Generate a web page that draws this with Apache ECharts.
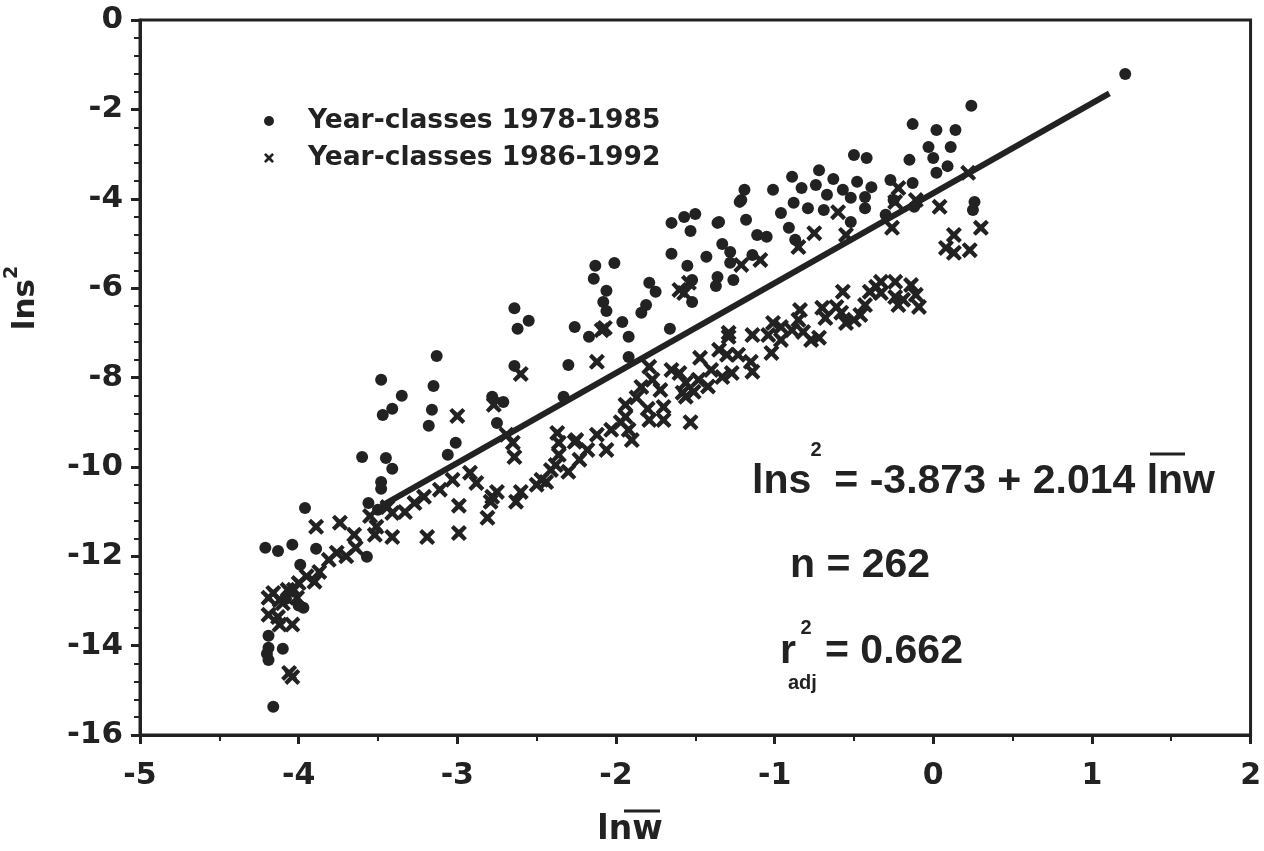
<!DOCTYPE html>
<html><head><meta charset="utf-8">
<script src="https://cdn.jsdelivr.net/npm/echarts@6/dist/echarts.min.js"></script>
<style>html,body{margin:0;padding:0;background:#fff}#c{width:1264px;height:851px}</style>
</head><body><div id="c"></div>
<script>
// Year-classes 1978-1985 (dots): [ln w, ln s^2]
const dots1978 = [
[-4.21,-11.81],[-4.13,-11.88],[-4.04,-11.74],[-3.96,-10.92],[-3.89,-11.83],[-3.99,-12.19],[-3.57,-12.01],
[-3.97,-13.15],[-4.08,-12.95],[-4.00,-13.10],[-4.19,-13.78],[-4.19,-14.05],[-4.20,-14.18],[-4.19,-14.32],[-4.10,-14.07],[-4.16,-15.37],
[-3.48,-8.05],[-3.15,-8.19],[-3.35,-8.41],[-3.41,-8.70],[-3.47,-8.84],[-3.16,-8.72],[-3.18,-9.08],[-3.01,-9.46],[-3.06,-9.73],
[-3.60,-9.78],[-3.45,-9.80],[-3.41,-10.04],[-3.48,-10.34],[-3.48,-10.49],[-3.56,-10.81],[-3.50,-10.96],[-3.13,-7.52],
[-2.75,-9.02],[-2.78,-8.43],[-2.71,-8.55],[-2.33,-8.43],
[-2.64,-6.45],[-2.55,-6.73],[-2.62,-6.91],[-2.26,-6.87],[-2.30,-7.72],[-2.64,-7.74],
[-2.13,-5.50],[-2.01,-5.44],[-2.14,-5.79],[-2.06,-6.06],[-2.08,-6.31],[-2.06,-6.51],[-1.96,-6.76],[-1.92,-7.09],[-2.17,-7.09],[-1.92,-7.54],
[-1.65,-5.23],[-1.55,-5.50],[-1.43,-5.30],[-1.33,-5.01],[-1.28,-5.19],[-1.28,-5.43],
[-1.79,-5.88],[-1.75,-6.08],[-1.81,-6.38],[-1.84,-6.55],[-1.66,-6.91],[-1.52,-5.82],[-1.52,-6.31],[-1.36,-5.75],[-1.26,-5.82],[-1.37,-5.95],
[-1.65,-4.54],[-1.57,-4.41],[-1.50,-4.34],[-1.53,-4.72],[-1.36,-4.54],[-1.21,-4.03],[-1.19,-3.80],[-1.18,-4.47],[-1.11,-4.81],[-1.14,-5.26],
[-0.50,-3.02],[-0.42,-3.09],[-0.15,-3.13],[-0.03,-2.84],[0.11,-2.84],[0.09,-3.27],[0.02,-3.42],[0.00,-3.09],
[-0.72,-3.36],[-0.89,-3.51],[-0.63,-3.56],[-0.48,-3.62],[-0.74,-3.69],[-0.83,-3.76],[-1.01,-3.80],[-1.22,-4.07],
[-0.57,-3.80],[-0.39,-3.74],[-0.27,-3.58],[-0.13,-3.65],[-0.67,-3.91],[-0.52,-3.98],[-0.43,-3.96],[-0.88,-4.09],
[-0.79,-4.21],[-0.69,-4.25],[-0.43,-4.21],[-0.96,-4.32],[-1.35,-4.52],[-0.52,-4.52],[-1.05,-4.85],[-0.91,-4.65],[-0.87,-4.92],
[0.26,-4.07],[0.25,-4.25],[-0.30,-4.36],[-0.25,-4.03],[-0.12,-4.18],
[1.21,-1.21],[0.24,-1.92],[-0.13,-2.33],[0.02,-2.46],[0.14,-2.46]
];
// Year-classes 1986-1992 (crosses)
const crosses1986 = [
[-3.89,-11.34],[-3.74,-11.25],[-3.65,-11.52],[-3.64,-11.81],[-3.41,-11.57],[-3.19,-11.57],[-2.99,-11.48],[-2.81,-11.14],
[-2.78,-10.67],[-2.99,-10.87],[-2.88,-10.36],[-2.92,-10.13],[-3.03,-10.29],[-3.11,-10.51],[-3.21,-10.67],[-3.27,-10.81],
[-3.33,-11.01],[-3.41,-11.03],[-3.51,-11.34],[-3.52,-11.52],[-3.44,-10.90],[-3.55,-11.10],
[-3.76,-11.92],[-3.81,-12.08],[-3.87,-12.35],[-3.90,-12.57],[-4.00,-12.60],[-4.07,-12.75],[-4.16,-12.82],[-4.19,-12.93],
[-4.12,-12.98],[-4.01,-12.93],[-4.19,-13.31],[-4.13,-13.36],[-4.04,-13.53],[-4.12,-13.53],[-4.06,-14.61],[-4.04,-14.70],
[-4.10,-13.05],[-4.03,-12.75],[-3.95,-12.45],[-3.70,-12.00],
[-3.00,-8.86],[-2.77,-8.61],[-2.60,-7.92],[-2.65,-9.46],[-2.64,-9.78],[-2.37,-9.24],[-2.36,-9.46],[-2.36,-9.73],[-2.38,-9.96],
[-2.26,-9.44],[-2.30,-10.11],[-2.44,-10.34],[-2.50,-10.40],[-2.60,-10.56],[-2.63,-10.78],[-2.75,-10.56],[-2.79,-10.78],
[-2.07,-6.89],[-2.12,-7.65],[-2.69,-9.28],[-2.25,-9.40],[-2.18,-9.62],[-2.12,-9.28],[-2.03,-9.17],[-2.06,-9.62],
[-1.94,-8.61],[-1.94,-8.88],[-1.92,-9.17],[-1.90,-9.40],[-2.23,-9.84],[-2.41,-10.07],[-2.47,-10.29],
[-1.79,-7.76],[-1.77,-8.05],[-1.84,-8.21],[-1.72,-8.28],[-1.65,-7.83],[-1.60,-7.90],[-1.56,-8.12],[-1.58,-8.34],[-1.51,-8.32],
[-1.48,-8.05],[-1.47,-7.56],[-1.40,-7.83],[-1.35,-7.38],[-1.30,-7.49],[-1.29,-7.09],[-1.27,-7.90],[-1.33,-7.99],
[-1.79,-8.95],[-1.70,-8.95],[-1.53,-9.00],[-1.70,-8.66],[-1.60,-6.04],[-1.54,-5.88],
[-1.23,-7.49],[-1.15,-7.65],[-1.14,-7.87],[-1.04,-7.05],[-1.02,-7.45],[-0.77,-7.16],[-1.56,-8.43],[-1.42,-8.20],
[-1.87,-8.45],[-1.80,-8.70],[-1.97,-9.00],
[-0.57,-6.08],[-0.36,-5.97],[-0.33,-5.86],[-0.24,-5.86],[-0.14,-5.93],[-0.33,-6.11],[-0.40,-6.08],[-0.24,-6.20],
[-0.19,-6.26],[-0.22,-6.38],[-0.11,-6.15],[-0.09,-6.42],[-0.43,-6.38],[-0.46,-6.60],[-0.50,-6.71],[-0.55,-6.78],
[-0.58,-6.55],[-0.61,-6.42],[-0.70,-6.44],[-0.68,-6.67],[-0.84,-6.49],[-0.85,-6.71],[-0.89,-6.94],[-0.82,-6.98],
[-0.72,-7.11],[-0.96,-6.87],[-0.96,-7.16],[-1.01,-6.78],[-1.29,-7.00],[-1.14,-7.05],
[-0.22,-3.76],[-0.24,-4.07],[-0.60,-4.30],[-0.55,-4.81],[-0.75,-4.77],[-0.85,-5.08],[-0.26,-4.65],[-0.11,-4.03],
[0.04,-4.18],[0.30,-4.65],[0.13,-4.81],[0.08,-5.10],[0.13,-5.21],[0.23,-5.15],[0.22,-3.42],
[-1.09,-5.37],[-1.21,-5.48],[-1.57,-6.11],[-2.09,-6.94]
];
// Regression line end points (lns^2 = -3.873 + 2.014 lnw)
const fitLine = [[-3.48,-10.88],[1.11,-1.64]];
const xTicks = [-5,-4,-3,-2,-1,0,1,2];
const yTicks = [0,-2,-4,-6,-8,-10,-12,-14,-16];
const seriesNames = ['Year-classes 1978-1985','Year-classes 1986-1992'];

const INK = '#222222';
const FONT = '"Liberation Sans", Arial, sans-serif';
const WIDE = '"DejaVu Sans", sans-serif';
const crossPath = 'path://M1.8,0 L5,3.0 L8.2,0 L10,1.8 L7,5 L10,8.2 L8.2,10 L5,7 L1.8,10 L0,8.2 L3,5 L0,1.8 Z';

const chart = echarts.init(document.getElementById('c'));
chart.setOption({
  backgroundColor: '#fff',
  animation: false,
  grid: {left: 140, right: 11, top: 20, bottom: 116, show: true, borderColor: INK, borderWidth: 3},
  legend: {
    left: 259, top: 101, orient: 'vertical', itemGap: 7, itemWidth: 10, itemHeight: 10,
    textStyle: {fontFamily: WIDE, fontWeight: 'bold', fontSize: 26.5, color: INK, lineHeight: 30, padding: [0,0,0,29]},
    data: [{name: seriesNames[0], icon: 'circle'}, {name: seriesNames[1], icon: crossPath}]
  },
  xAxis: {
    type: 'value', min: xTicks[0], max: xTicks[xTicks.length-1], interval: 1,
    axisLine: {onZero: false, lineStyle: {color: INK, width: 3}},
    axisTick: {length: 9, lineStyle: {color: INK, width: 3}},
    minorTick: {show: true, splitNumber: 2, length: 6, lineStyle: {color: INK, width: 2}},
    splitLine: {show: false},
    axisLabel: {color: INK, fontFamily: WIDE, fontWeight: 'bold', fontSize: 30, margin: 26,
      formatter: v => xTicks.includes(v) ? String(v) : ''}
  },
  yAxis: {
    type: 'value', min: yTicks[yTicks.length-1], max: yTicks[0], interval: 2,
    axisLine: {onZero: false, lineStyle: {color: INK, width: 3}},
    axisTick: {length: 9, lineStyle: {color: INK, width: 3}},
    minorTick: {show: true, splitNumber: 5, length: 6, lineStyle: {color: INK, width: 2}},
    splitLine: {show: false},
    axisLabel: {color: INK, fontFamily: WIDE, fontWeight: 'bold', fontSize: 31, margin: 17,
      formatter: v => yTicks.includes(v) ? String(v) : ''}
  },
  series: [
    {name: seriesNames[0], type: 'scatter', symbol: 'circle', symbolSize: 12, data: dots1978,
     itemStyle: {color: INK, opacity: 1}, z: 3},
    {name: seriesNames[1], type: 'scatter', symbol: crossPath, symbolSize: 16, data: crosses1986,
     itemStyle: {color: INK, opacity: 1}, z: 3},
    {name: 'fit', type: 'line', data: fitLine, symbol: 'none', lineStyle: {color: INK, width: 6}, z: 4}
  ],
  graphic: [
    {type: 'text', x: 22, y: 298, rotation: Math.PI/2,
     style: {text: '{a|lns}{b|2}', fill: INK, align: 'center', verticalAlign: 'middle',
       rich: {a: {fontFamily: WIDE, fontWeight: 'bold', fontSize: 31, fill: INK, lineHeight: 38, verticalAlign: 'bottom'},
              b: {fontFamily: WIDE, fontWeight: 'bold', fontSize: 19, fill: INK, lineHeight: 38, verticalAlign: 'top'}}}},
    {type: 'text', x: 630, y: 830, style: {text: 'lnw', fill: INK, font: 'bold 33px ' + WIDE, align: 'center', verticalAlign: 'middle'}},
    {type: 'line', shape: {x1: 624, y1: 811, x2: 660, y2: 811}, style: {stroke: INK, lineWidth: 3}},
    {type: 'text', x: 752, y: 482, style: {text: 'lns', fill: INK, font: 'bold 41px ' + FONT, align: 'left', verticalAlign: 'middle'}},
    {type: 'text', x: 816, y: 450, style: {text: '2', fill: INK, font: 'bold 20px ' + FONT, align: 'center', verticalAlign: 'middle'}},
    {type: 'text', x: 1215, y: 482, style: {text: '= -3.873 + 2.014 lnw', fill: INK, font: 'bold 41px ' + FONT, align: 'right', verticalAlign: 'middle'}},
    {type: 'line', shape: {x1: 1150, y1: 454, x2: 1185, y2: 454}, style: {stroke: INK, lineWidth: 3}},
    {type: 'text', x: 790, y: 566, style: {text: 'n = 262', fill: INK, font: 'bold 41px ' + FONT, align: 'left', verticalAlign: 'middle'}},
    {type: 'text', x: 780, y: 652, style: {text: 'r', fill: INK, font: 'bold 41px ' + FONT, align: 'left', verticalAlign: 'middle'}},
    {type: 'text', x: 806, y: 628, style: {text: '2', fill: INK, font: 'bold 20px ' + FONT, align: 'center', verticalAlign: 'middle'}},
    {type: 'text', x: 788, y: 683, style: {text: 'adj', fill: INK, font: 'bold 20px ' + FONT, align: 'left', verticalAlign: 'middle'}},
    {type: 'text', x: 825, y: 652, style: {text: '= 0.662', fill: INK, font: 'bold 41px ' + FONT, align: 'left', verticalAlign: 'middle'}}
  ]
});
</script></body></html>
